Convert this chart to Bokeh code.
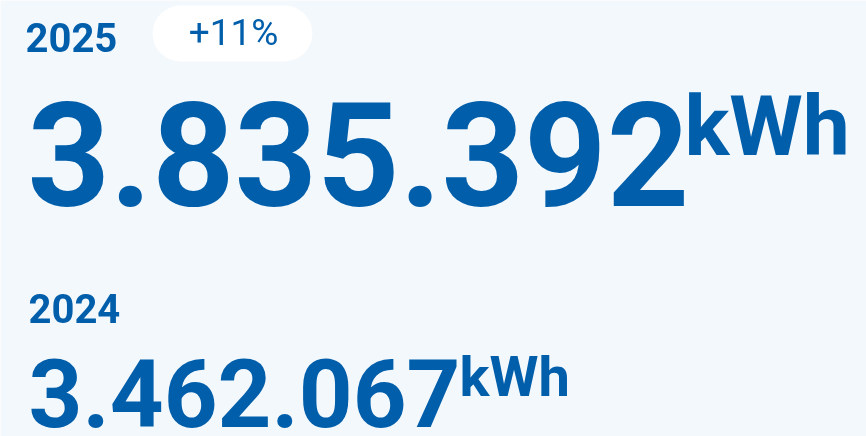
from bokeh.plotting import figure
from bokeh.models import Range1d, BoxAnnotation
from bokeh.core.properties import value
from bokeh.embed import file_html
from bokeh.resources import INLINE

# --- data ---
years = ["2025", "2024"]
values = ["3.835.392", "3.462.067"]
unit = "kWh"
change = "+11%"

BG = "#F3F8FC"
BLUE = "#005EAB"
W, H = 866, 436

p = figure(width=W, height=H, output_backend="svg", toolbar_location=None,
           x_range=Range1d(0, W), y_range=Range1d(H, 0), min_border=0,
           styles={"position": "fixed", "left": "0px", "top": "0px"})
p.axis.visible = False
p.grid.visible = False
p.outline_line_color = None
p.background_fill_color = BG
p.border_fill_color = BG

# pill
p.add_layout(BoxAnnotation(left=152, right=312, top=5, bottom=61, fill_color="white",
                           fill_alpha=1, line_color=None, border_radius=28,
                           level="underlay"))

font = value("Roboto")
K = 0.37  # empirical baseline correction

def txt(x, base, s, size, style="bold", align="left"):
    p.text(x=[x], y=[base - K * size], text=[s], text_font=font,
           text_font_size=f"{size}px", text_font_style=style, text_color=BLUE,
           text_align=align, text_baseline="alphabetic")

txt(25, 52, years[0], 40)
txt(233, 46, change, 37, style="normal", align="center")
txt(27, 207, values[0], 144)
txt(684, 157, unit, 84)
txt(28, 323, years[1], 40)
txt(28, 427, values[1], 94)
txt(459, 397, unit, 56)

open("out.html", "w").write(file_html(p, INLINE))
